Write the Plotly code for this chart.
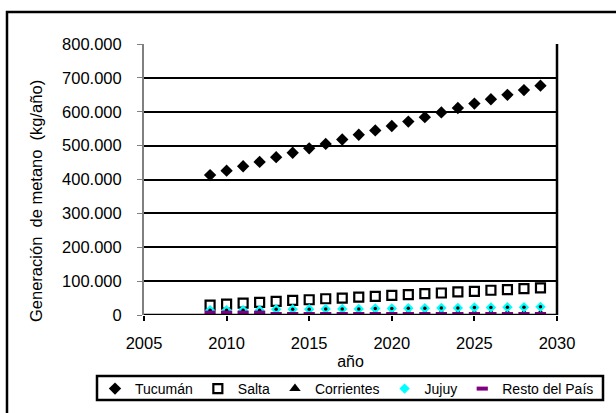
import plotly.graph_objects as go

# Proyección anual de generación de metano por provincia (kg/año)
anios = [2009, 2010, 2011, 2012, 2013, 2014, 2015, 2016, 2017, 2018, 2019,
         2020, 2021, 2022, 2023, 2024, 2025, 2026, 2027, 2028, 2029]

tucuman = [413000, 426000, 439000, 452000, 466000, 479000, 492000, 505000,
           518000, 532000, 545000, 558000, 571000, 584000, 598000, 611000,
           624000, 637000, 650000, 664000, 677000]
salta = [29000, 32000, 35000, 37000, 40000, 43000, 45000, 48000, 50000,
         53000, 55000, 58000, 60000, 63000, 65000, 68000, 70000, 73000,
         75000, 78000, 80000]
corrientes = [4000, 4000, 4000, 4000, 3000, 3000, 3000, 3000, 3000, 3000,
              3000, 3000, 3000, 3000, 3000, 3000, 3000, 3000, 3000, 3000, 3000]
jujuy = [14000, 14000, 14000, 14000, 17000, 17000, 17000, 18000, 18000,
         18000, 19000, 19000, 20000, 20000, 21000, 21000, 22000, 22000,
         23000, 23000, 24000]
resto = [7000, 7000, 7000, 7000, 3000, 3000, 3000, 3000, 3000, 3000, 3000,
         3000, 3000, 3000, 3000, 3000, 3000, 3000, 3000, 3000, 3000]

y_ticks = [0, 100000, 200000, 300000, 400000, 500000, 600000, 700000, 800000]
x_ticks = [2005, 2010, 2015, 2020, 2025, 2030]

FONT = "Liberation Sans, Arial, sans-serif"
PURPLE = "#800080"
CYAN = "#00FFFF"

fig = go.Figure()

fig.add_trace(go.Scatter(
    x=anios, y=tucuman, mode="markers", name="Tucumán",
    marker=dict(symbol="diamond", size=9.5, color="black", line=dict(width=0)),
))
fig.add_trace(go.Scatter(
    x=anios, y=salta, mode="markers", name="Salta",
    marker=dict(symbol="square-open", size=9, color="black",
                line=dict(width=2.2, color="black")),
))
fig.add_trace(go.Scatter(
    x=anios, y=corrientes, mode="markers", name="Corrientes",
    marker=dict(symbol="triangle-up", size=10, color="black", line=dict(width=0)),
))
fig.add_trace(go.Scatter(
    x=anios, y=jujuy, mode="markers", name="Jujuy",
    marker=dict(symbol="diamond", size=8, color=CYAN, line=dict(width=0)),
))
# punto central de los marcadores de Jujuy
fig.add_trace(go.Scatter(
    x=anios, y=jujuy, mode="markers", name="Jujuy", showlegend=False,
    hoverinfo="skip",
    marker=dict(symbol="circle", size=3.5, color="black", line=dict(width=0)),
))
fig.add_trace(go.Scatter(
    x=anios, y=resto, mode="markers", name="Resto del País",
    marker=dict(symbol="line-ew", size=8, color=PURPLE,
                line=dict(width=4, color=PURPLE)),
))

W, H = 616, 413
L, R, T, B = 144, 59, 44, 98
pw, ph = W - L - R, H - T - B


def px_x(px):
    return (px - L) / pw


def px_y(py):
    return (H - B - py) / ph


fig.update_layout(
    width=W, height=H,
    margin=dict(l=L, r=R, t=T, b=B, pad=0, autoexpand=False),
    paper_bgcolor="white", plot_bgcolor="white",
    font=dict(family=FONT, size=15, color="black"),
    separators=",.",
    showlegend=True,
    legend=dict(
        orientation="h",
        x=px_x(95), xanchor="left",
        y=px_y(373), yanchor="top",
        bgcolor="rgba(0,0,0,0)",
        borderwidth=0,
        font=dict(family=FONT, size=14, color="black"),
        itemwidth=30,
        tracegroupgap=0,
    ),
    xaxis=dict(
        range=[2005, 2030], tickvals=x_ticks,
        showgrid=False, zeroline=False,
        showline=False,
        ticks="outside", ticklen=5, tickwidth=2, tickcolor="black",
        ticklabelstandoff=8,
        tickfont=dict(family=FONT, size=16.5, color="black"),
        title=dict(text="año", standoff=5,
                   font=dict(family=FONT, size=16, color="black")),
    ),
    yaxis=dict(
        range=[0, 800000], tickvals=y_ticks, tickformat=",.0f",
        showgrid=True, gridcolor="black", gridwidth=2,
        zeroline=False,
        showline=True, linecolor="#808080", linewidth=2,
        ticks="outside", ticklen=5, tickwidth=1, tickcolor="#808080",
        ticklabelstandoff=12,
        tickfont=dict(family=FONT, size=16.5, color="black"),
    ),
    annotations=[
        # título del eje y
        dict(text="Generación  de metano  (kg/año)", textangle=-90,
             xref="paper", yref="paper", x=px_x(36), y=px_y(201),
             xanchor="center", yanchor="middle", showarrow=False,
             font=dict(family=FONT, size=16.5, color="black")),
    ],
    shapes=[
        # eje x (línea del cero)
        dict(type="line", xref="paper", yref="y", x0=0, x1=1, y0=0, y1=0,
             line=dict(color="black", width=2.5), layer="above"),
        # borde derecho del área de trazado
        dict(type="line", xref="paper", yref="paper", x0=1, x1=1, y0=0, y1=1,
             line=dict(color="black", width=2.5)),
        # marco exterior del gráfico
        dict(type="rect", xref="paper", yref="paper",
             x0=px_x(7), x1=px_x(640), y0=px_y(440), y1=px_y(12),
             line=dict(color="black", width=2.5)),
        # recuadro de la leyenda
        dict(type="rect", xref="paper", yref="paper",
             x0=px_x(97), x1=px_x(603), y0=px_y(400), y1=px_y(376),
             line=dict(color="black", width=2.5), fillcolor="white",
             layer="below"),
    ],
)

fig.write_html("out.html")
